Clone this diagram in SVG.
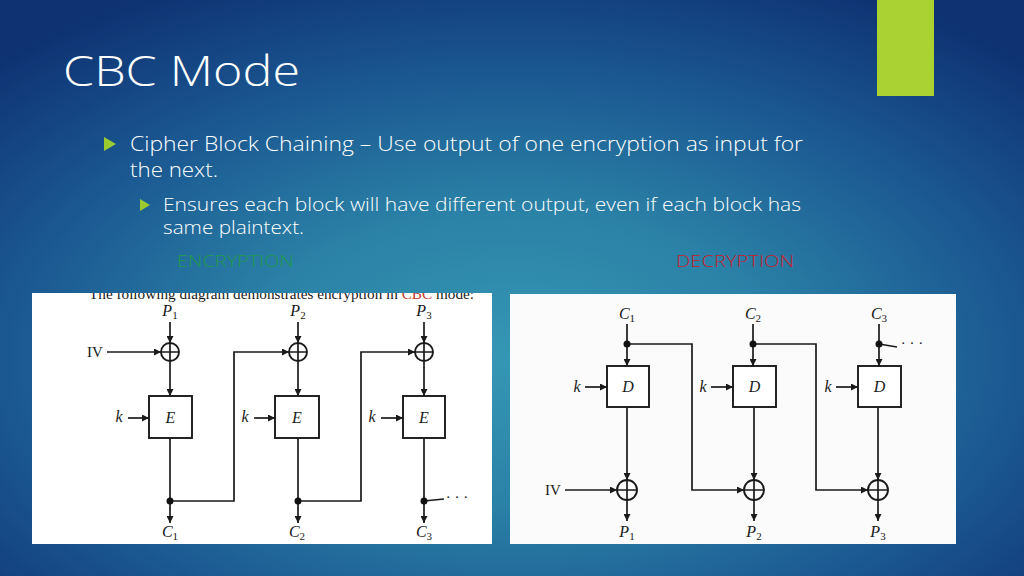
<svg xmlns="http://www.w3.org/2000/svg" width="1024" height="576" viewBox="0 0 1024 576">
<defs>
  <radialGradient id="bg" cx="0.5" cy="0.62" r="0.72" fx="0.5" fy="0.62">
    <stop offset="0" stop-color="#3597b3"/>
    <stop offset="0.35" stop-color="#2b82a7"/>
    <stop offset="0.7" stop-color="#1a5690"/>
    <stop offset="1" stop-color="#0e3272"/>
  </radialGradient>
  <marker id="ah" viewBox="0 0 10 10" refX="10" refY="5" markerWidth="7" markerHeight="7" markerUnits="userSpaceOnUse" orient="auto">
    <path d="M0,0 L10,5 L0,10 z" fill="#1a1a1a"/>
  </marker>
  <clipPath id="clipL"><rect x="32" y="293" width="460" height="251"/></clipPath>
</defs>
<style>
  .title{font-family:"Open Sans","Liberation Sans",Arial,sans-serif;font-weight:300;font-size:42px;fill:#ffffff;}
  .b1{font-family:"Open Sans","Liberation Sans",Arial,sans-serif;font-weight:300;font-size:20px;fill:#ffffff;}
  .b2{font-family:"Open Sans","Liberation Sans",Arial,sans-serif;font-weight:300;font-size:18px;fill:#ffffff;}
  .lab{font-family:"Open Sans","Liberation Sans",Arial,sans-serif;font-weight:300;font-size:16px;}
  .ln{fill:none;stroke:#1a1a1a;stroke-width:1.7;}
  .arr{fill:none;stroke:#1a1a1a;stroke-width:1.7;marker-end:url(#ah);}
  .box{fill:#ffffff;stroke:#1a1a1a;stroke-width:1.9;}
  .xor{fill:none;stroke:#1a1a1a;stroke-width:1.9;}
  .dot{fill:#111111;}
  .m{font-family:"Liberation Serif","Times New Roman",serif;font-style:italic;font-size:16px;fill:#1a1a1a;text-anchor:middle;}
  .sub{font-style:normal;font-size:11px;}
  .rm{font-family:"Liberation Serif","Times New Roman",serif;font-size:15px;fill:#1a1a1a;text-anchor:middle;}
  .bul{fill:#9bcb2e;}
</style>
<rect x="0" y="0" width="1024" height="576" fill="url(#bg)"/>
<rect x="877" y="0" width="57" height="96" fill="#a9d232"/>

<g id="title"><text class="title" x="63" y="86" textLength="237" lengthAdjust="spacingAndGlyphs">CBC Mode</text></g>

<g id="bullets">
  <path class="bul" d="M104,137 L116,144 L104,151 z"/>
  <text class="b1" x="130" y="151" textLength="673" lengthAdjust="spacingAndGlyphs">Cipher Block Chaining – Use output of one encryption as input for</text>
  <text class="b1" x="130" y="177" textLength="88" lengthAdjust="spacingAndGlyphs">the next.</text>
  <path class="bul" d="M140,199 L150,205 L140,211 z"/>
  <text class="b2" x="163" y="211" textLength="638" lengthAdjust="spacingAndGlyphs">Ensures each block will have different output, even if each block has</text>
  <text class="b2" x="163" y="234" textLength="141" lengthAdjust="spacingAndGlyphs">same plaintext.</text>
  <text class="lab" x="177" y="267" fill="#1f9a4c" textLength="117" lengthAdjust="spacingAndGlyphs">ENCRYPTION</text>
  <text class="lab" x="676" y="267" fill="#c8202c" textLength="118" lengthAdjust="spacingAndGlyphs">DECRYPTION</text>
</g>

<!-- Encryption image -->
<g id="enc">
  <rect x="32" y="293" width="460" height="251" fill="#ffffff"/>
  <g clip-path="url(#clipL)">
    <text x="89" y="299" font-family="'Liberation Serif','Times New Roman',serif" font-size="15" fill="#1a1a1a" textLength="385" lengthAdjust="spacingAndGlyphs">The following diagram demonstrates encryption in <tspan fill="#c0392b">CBC</tspan> mode:</text>
  </g>
  <g id="enc-labels">
    <text class="m" x="170" y="316">P<tspan class="sub" dy="3">1</tspan></text>
    <text class="m" x="298" y="316">P<tspan class="sub" dy="3">2</tspan></text>
    <text class="m" x="424" y="316">P<tspan class="sub" dy="3">3</tspan></text>
    <text class="rm" x="95" y="357">IV</text>
    <text class="m" x="119" y="422">k</text>
    <text class="m" x="245" y="422">k</text>
    <text class="m" x="372" y="422">k</text>
    <text class="m" x="170" y="537">C<tspan class="sub" dy="3">1</tspan></text>
    <text class="m" x="297" y="537">C<tspan class="sub" dy="3">2</tspan></text>
    <text class="m" x="424" y="537">C<tspan class="sub" dy="3">3</tspan></text>
  </g>
  <g id="enc-connectors">
    <line class="arr" x1="170" y1="322" x2="170" y2="343"/>
    <line class="arr" x1="298" y1="322" x2="298" y2="343"/>
    <line class="arr" x1="424" y1="322" x2="424" y2="343"/>
    <line class="arr" x1="107" y1="352" x2="161" y2="352"/>
    <polyline class="arr" points="170,501 234,501 234,352 289,352"/>
    <polyline class="arr" points="298,501 361,501 361,352 415,352"/>
    <line class="arr" x1="170" y1="361" x2="170" y2="396"/>
    <line class="arr" x1="298" y1="361" x2="298" y2="396"/>
    <line class="arr" x1="424" y1="361" x2="424" y2="396"/>
    <line class="arr" x1="128" y1="418" x2="149" y2="418"/>
    <line class="arr" x1="254" y1="418" x2="275" y2="418"/>
    <line class="arr" x1="381" y1="418" x2="403" y2="418"/>
    <line class="ln" x1="170" y1="438" x2="170" y2="501"/>
    <line class="ln" x1="298" y1="438" x2="298" y2="501"/>
    <line class="ln" x1="424" y1="438" x2="424" y2="501"/>
    <line class="arr" x1="170" y1="501" x2="170" y2="523"/>
    <line class="arr" x1="298" y1="501" x2="298" y2="523"/>
    <line class="arr" x1="424" y1="501" x2="424" y2="523"/>
    <line class="ln" x1="424" y1="501" x2="444" y2="499"/>
    <text class="rm" x="457" y="502" font-size="13">· · ·</text>
  </g>
  <g id="enc-xor1"><circle class="xor" cx="170" cy="352" r="9"/><path class="ln" d="M161,352 H179 M170,343 V361"/></g>
  <g id="enc-xor2"><circle class="xor" cx="298" cy="352" r="9"/><path class="ln" d="M289,352 H307 M298,343 V361"/></g>
  <g id="enc-xor3"><circle class="xor" cx="424" cy="352" r="9"/><path class="ln" d="M415,352 H433 M424,343 V361"/></g>
  <g id="enc-E1"><rect class="box" x="149" y="396" width="43" height="42"/><text class="m" x="170.5" y="423">E</text></g>
  <g id="enc-E2"><rect class="box" x="275" y="396" width="44" height="42"/><text class="m" x="297" y="423">E</text></g>
  <g id="enc-E3"><rect class="box" x="403" y="396" width="42" height="42"/><text class="m" x="424" y="423">E</text></g>
  <circle class="dot" cx="170" cy="501" r="3.5"/>
  <circle class="dot" cx="298" cy="501" r="3.5"/>
  <circle class="dot" cx="424" cy="501" r="3.5"/>
</g>

<!-- Decryption image -->
<g id="dec">
  <rect x="510" y="294" width="446" height="250" fill="#fbfbfb"/>
  <g id="dec-labels">
    <text class="m" x="627" y="319">C<tspan class="sub" dy="3">1</tspan></text>
    <text class="m" x="753" y="319">C<tspan class="sub" dy="3">2</tspan></text>
    <text class="m" x="879" y="319">C<tspan class="sub" dy="3">3</tspan></text>
    <text class="m" x="577" y="392">k</text>
    <text class="m" x="703" y="392">k</text>
    <text class="m" x="828" y="392">k</text>
    <text class="rm" x="553" y="495">IV</text>
    <text class="m" x="627" y="537">P<tspan class="sub" dy="3">1</tspan></text>
    <text class="m" x="754" y="537">P<tspan class="sub" dy="3">2</tspan></text>
    <text class="m" x="878" y="537">P<tspan class="sub" dy="3">3</tspan></text>
  </g>
  <g id="dec-connectors">
    <line class="ln" x1="627" y1="324" x2="627" y2="344"/>
    <line class="ln" x1="753" y1="324" x2="753" y2="344"/>
    <line class="ln" x1="879" y1="324" x2="879" y2="344"/>
    <line class="arr" x1="627" y1="344" x2="627" y2="366"/>
    <line class="arr" x1="753" y1="344" x2="753" y2="366"/>
    <line class="arr" x1="879" y1="344" x2="879" y2="366"/>
    <polyline class="arr" points="627,344 692,344 692,490 744,490"/>
    <polyline class="arr" points="753,344 816,344 816,490 868,490"/>
    <line class="ln" x1="879" y1="344" x2="897" y2="347"/>
    <text class="rm" x="912" y="348" font-size="13">· · ·</text>
    <line class="arr" x1="585" y1="387" x2="607" y2="387"/>
    <line class="arr" x1="711" y1="387" x2="733" y2="387"/>
    <line class="arr" x1="836" y1="387" x2="858" y2="387"/>
    <line class="arr" x1="627" y1="407" x2="627" y2="480"/>
    <line class="arr" x1="754" y1="407" x2="754" y2="480"/>
    <line class="arr" x1="878" y1="407" x2="878" y2="480"/>
    <line class="arr" x1="565" y1="490" x2="617" y2="490"/>
    <line class="arr" x1="627" y1="500" x2="627" y2="521"/>
    <line class="arr" x1="754" y1="500" x2="754" y2="521"/>
    <line class="arr" x1="878" y1="500" x2="878" y2="521"/>
  </g>
  <g id="dec-D1"><rect class="box" x="607" y="366" width="42" height="41"/><text class="m" x="628" y="392">D</text></g>
  <g id="dec-D2"><rect class="box" x="733" y="366" width="43" height="41"/><text class="m" x="754.5" y="392">D</text></g>
  <g id="dec-D3"><rect class="box" x="858" y="366" width="43" height="41"/><text class="m" x="879.5" y="392">D</text></g>
  <g id="dec-xor1"><circle class="xor" cx="627" cy="490" r="10"/><path class="ln" d="M617,490 H637 M627,480 V500"/></g>
  <g id="dec-xor2"><circle class="xor" cx="754" cy="490" r="10"/><path class="ln" d="M744,490 H764 M754,480 V500"/></g>
  <g id="dec-xor3"><circle class="xor" cx="878" cy="490" r="10"/><path class="ln" d="M868,490 H888 M878,480 V500"/></g>
  <circle class="dot" cx="627" cy="344" r="3.5"/>
  <circle class="dot" cx="753" cy="344" r="3.5"/>
  <circle class="dot" cx="879" cy="344" r="3.5"/>
</g>
</svg>
